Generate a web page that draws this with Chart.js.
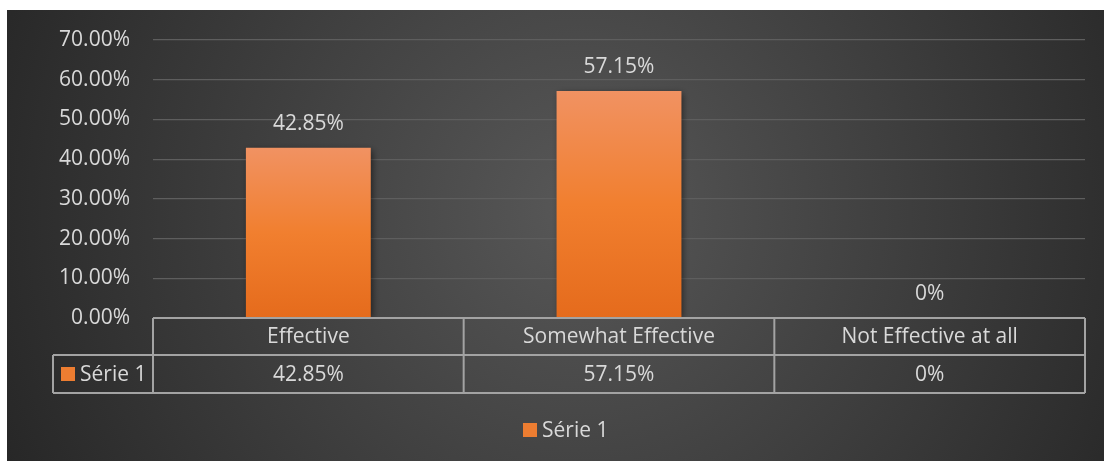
<!DOCTYPE html>
<html>
<head>
<meta charset="utf-8">
<script src="https://cdn.jsdelivr.net/npm/chart.js@4"></script>
<style>
  body { margin: 0; background: #fff; }
  canvas { display: block; }
</style>
</head>
<body>
<canvas id="myChart" width="1106" height="463"></canvas>
<script>
const categories = ['Effective', 'Somewhat Effective', 'Not Effective at all'];
const serie1 = [0.4285, 0.5715, 0];
const serieName = 'Série 1';
const valueLabels = ['42.85%', '57.15%', '0%'];

const FAMILY = '"Open Sans", Lato, sans-serif';
const FONT = '21px ' + FAMILY;
const TXT = '#d9d9d9';
const LINE = '#a3a3a3';

// background + table + labels drawn around the bars
const excelLook = {
    id: 'excelLook',
    beforeDraw(chart) {
        const c = chart.ctx;
        c.save();
        const g = c.createRadialGradient(580, 210, 20, 580, 210, 640);
        g.addColorStop(0, '#565656');
        g.addColorStop(1, '#262626');
        c.fillStyle = g;
        c.fillRect(7, 10, 1097, 451);
        c.restore();
    },
    beforeDatasetsDraw(chart) {
        const c = chart.ctx;
        c.save();
        c.shadowColor = 'rgba(0,0,0,0.55)';
        c.shadowBlur = 7;
        c.shadowOffsetX = 2;
        c.shadowOffsetY = 2;
    },
    afterDatasetsDraw(chart) {
        chart.ctx.restore();
    },
    afterDraw(chart) {
        const c = chart.ctx;
        const area = chart.chartArea;
        const x = chart.scales.x;
        const y = chart.scales.y;
        const half = (area.right - area.left) / categories.length / 2;
        const row1 = area.bottom, row2 = area.bottom + 37, row3 = area.bottom + 75;
        c.save();
        c.font = FONT;
        c.fillStyle = TXT;
        c.textAlign = 'center';
        c.textBaseline = 'middle';

        // labels above bars
        serie1.forEach((v, i) => {
            c.fillText(valueLabels[i], x.getPixelForValue(i), y.getPixelForValue(v) - 24);
        });

        // data table
        c.strokeStyle = LINE;
        c.lineWidth = 2;
        c.beginPath();
        c.moveTo(area.left, row1); c.lineTo(area.right, row1);
        c.moveTo(53, row2); c.lineTo(area.right, row2);
        c.moveTo(53, row3); c.lineTo(area.right, row3);
        c.moveTo(53, row2); c.lineTo(53, row3);
        c.moveTo(area.left, row1); c.lineTo(area.left, row3);
        categories.forEach((cat, i) => {
            const r = x.getPixelForValue(i) + half;
            c.moveTo(r, row1); c.lineTo(r, row3);
        });
        c.stroke();

        categories.forEach((cat, i) => {
            const cx = x.getPixelForValue(i);
            c.fillText(cat, cx, (row1 + row2) / 2 + 1);
            c.fillText(valueLabels[i], cx, (row2 + row3) / 2 + 1);
        });

        // series key in the table
        c.fillStyle = '#ed7d31';
        c.fillRect(61, 367, 14, 14);
        c.fillStyle = TXT;
        c.textAlign = 'left';
        c.fillText(serieName, 80, 375);

        // legend
        c.fillStyle = '#ed7d31';
        c.fillRect(523, 423, 14, 14);
        c.fillStyle = TXT;
        c.fillText(serieName, 542, 431);
        c.restore();
    }
};

function barFill(context) {
    const chart = context.chart;
    if (!chart.chartArea) return '#ed7d31';
    const y = chart.scales.y;
    const top = y.getPixelForValue(context.parsed ? context.parsed.y : 0);
    const bottom = chart.chartArea.bottom;
    const g = chart.ctx.createLinearGradient(0, top, 0, bottom > top ? bottom : top + 1);
    g.addColorStop(0, '#f19262');
    g.addColorStop(0.5, '#f17f2f');
    g.addColorStop(1, '#e56b1c');
    return g;
}

const ctx = document.getElementById('myChart');
const myChart = new Chart(ctx, {
    type: 'bar',
    data: {
        labels: categories,
        datasets: [{
            label: serieName,
            data: serie1,
            backgroundColor: barFill,
            barPercentage: 0.402,
            categoryPercentage: 1
        }]
    },
    options: {
        responsive: false,
        animation: false,
        layout: {
            padding: { top: 40, right: 21, bottom: 145, left: 0 }
        },
        plugins: {
            legend: { display: false },
            tooltip: { enabled: false }
        },
        scales: {
            x: {
                display: false
            },
            y: {
                min: 0,
                max: 0.7,
                afterFit(scale) { scale.width = 153; },
                border: { display: false },
                grid: { color: '#5e5e5e', lineWidth: 1.2, drawTicks: false },
                ticks: {
                    stepSize: 0.1,
                    padding: 23,
                    color: TXT,
                    font: { family: FAMILY, size: 21 },
                    callback: v => (v * 100).toFixed(2) + '%'
                }
            }
        }
    },
    plugins: [excelLook]
});
</script>
</body>
</html>
